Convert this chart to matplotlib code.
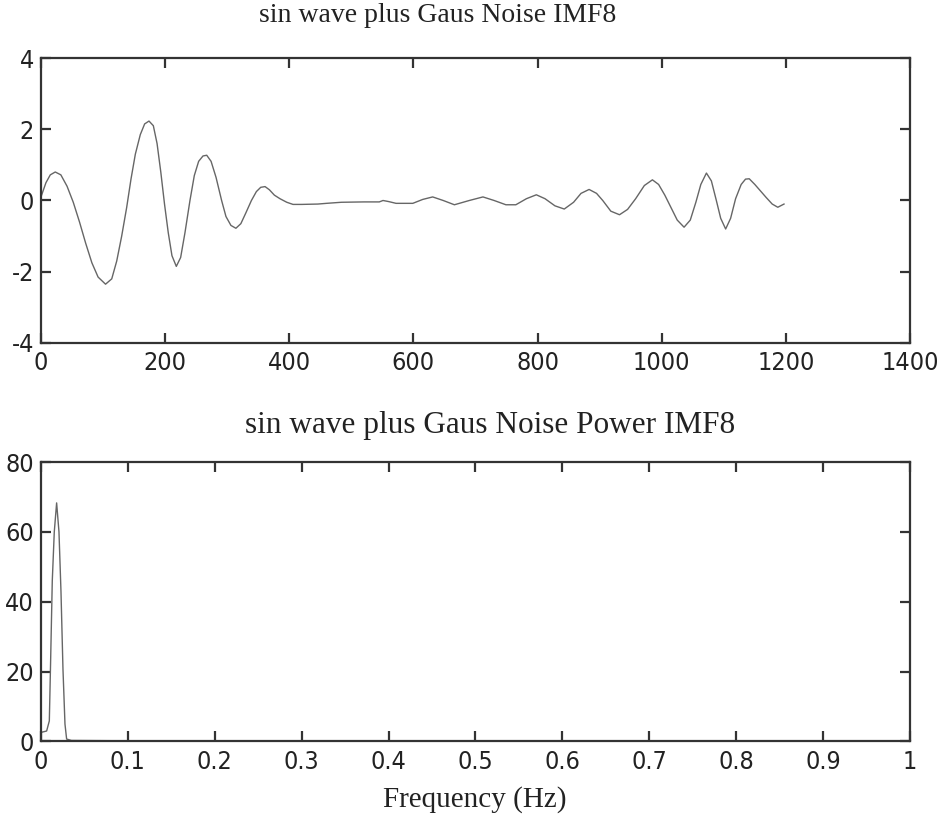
import matplotlib
matplotlib.use('Agg')
import matplotlib.pyplot as plt

plt.rcParams['axes.unicode_minus'] = False

# IMF8 signal (sample index, amplitude)
sample_idx = [0, 8, 15, 23, 32, 42, 52, 62, 72, 82, 92, 104, 114, 122, 130, 138,
              145, 152, 160, 167, 174, 181, 187, 193, 199, 205, 211, 218, 225, 232,
              240, 247, 254, 261, 267, 274, 282, 291, 298, 306, 314, 322, 330, 339,
              347, 354, 361, 368, 376, 385, 396, 406, 420, 446, 460, 484, 520, 545,
              551, 560, 572, 599, 615, 631, 648, 666, 690, 712, 730, 749, 765, 782,
              798, 812, 828, 843, 858, 870, 883, 895, 905, 918, 932, 945, 958, 972,
              985, 995, 1005, 1015, 1025, 1036, 1046, 1055, 1063, 1072, 1080, 1088,
              1095, 1103, 1111, 1119, 1128, 1135, 1141, 1150, 1160, 1168, 1178, 1187,
              1197]
imf8 = [0.1, 0.5, 0.72, 0.8, 0.72, 0.4, -0.05, -0.6, -1.2, -1.75, -2.15, -2.35,
        -2.2, -1.7, -1.0, -0.2, 0.6, 1.3, 1.85, 2.15, 2.23, 2.1, 1.6, 0.8, -0.1,
        -0.9, -1.55, -1.85, -1.6, -0.9, 0.0, 0.7, 1.1, 1.25, 1.27, 1.1, 0.65, 0.0,
        -0.45, -0.7, -0.78, -0.65, -0.35, 0.0, 0.25, 0.37, 0.39, 0.3, 0.15, 0.05,
        -0.05, -0.11, -0.11, -0.1, -0.08, -0.05, -0.04, -0.04, 0.0, -0.03, -0.08,
        -0.08, 0.03, 0.1, 0.0, -0.12, 0.0, 0.1, 0.0, -0.12, -0.12, 0.05, 0.16,
        0.05, -0.15, -0.24, -0.05, 0.2, 0.31, 0.2, 0.0, -0.3, -0.4, -0.25, 0.05,
        0.42, 0.58, 0.45, 0.15, -0.2, -0.55, -0.75, -0.55, -0.05, 0.45, 0.77, 0.55,
        0.0, -0.5, -0.8, -0.5, 0.05, 0.45, 0.6, 0.61, 0.45, 0.25, 0.09, -0.1,
        -0.19, -0.1]

# power spectrum
freq = [0.0, 0.0065, 0.0096, 0.011, 0.013, 0.0153, 0.018, 0.0207, 0.023, 0.0253,
        0.0276, 0.0295, 0.035, 0.1, 0.3, 0.5, 0.7, 1.0]
power = [2.6, 3.0, 5.9, 22, 46, 60, 68.3, 60, 43, 20.7, 5, 0.7, 0.3, 0.2, 0.1,
         0.08, 0.05, 0.03]

top_title = 'sin wave plus Gaus Noise IMF8'
bottom_title = 'sin wave plus Gaus Noise Power IMF8'
x_label = 'Frequency (Hz)'

title_font = ['Liberation Serif', 'DejaVu Serif']
line_color = '#666666'
frame_color = '#333333'

fig = plt.figure(figsize=(9.4, 8.16), dpi=100)
ax1 = fig.add_axes([0.0436, 0.5797, 0.9245, 0.3492])
ax2 = fig.add_axes([0.0436, 0.0913, 0.9245, 0.3425])


def style(ax):
    for s in ax.spines.values():
        s.set_linewidth(1.6)
        s.set_color(frame_color)
    ax.tick_params(direction='in', length=7, width=1.6, color=frame_color,
                   top=True, right=True, labelcolor='#222222')
    ax.tick_params(axis='x', pad=6)
    ax.tick_params(axis='y', pad=5)
    for lbl in ax.get_xticklabels() + ax.get_yticklabels():
        lbl.set_family('DejaVu Sans')
        lbl.set_stretch('condensed')
        lbl.set_fontsize(18)


ax1.plot(sample_idx, imf8, color=line_color, lw=1.0)
ax1.set_xlim(0, 1400)
ax1.set_ylim(-4, 4)
ax1.set_xticks(range(0, 1401, 200))
ax1.set_yticks([-4, -2, 0, 2, 4])
style(ax1)

ax2.plot(freq, power, color=line_color, lw=1.0)
ax2.set_xlim(0, 1)
ax2.set_ylim(0, 80)
ax2.set_xticks([i / 10 for i in range(11)])
ax2.set_xticklabels(['0', '0.1', '0.2', '0.3', '0.4', '0.5', '0.6', '0.7',
                     '0.8', '0.9', '1'])
ax2.set_yticks([0, 20, 40, 60, 80])
style(ax2)

fig.text(438 / 940, 1 - 16 / 816, top_title, ha='center', va='center',
         fontsize=20, family=title_font, color='#222222')
fig.text(490 / 940, 1 - 425 / 816, bottom_title, ha='center', va='center',
         fontsize=22.5, family=title_font, color='#222222')
fig.text(475 / 940, 1 - 800 / 816, x_label, ha='center', va='center',
         fontsize=21, family=title_font, color='#222222')

fig.savefig('out.png', dpi=100)
